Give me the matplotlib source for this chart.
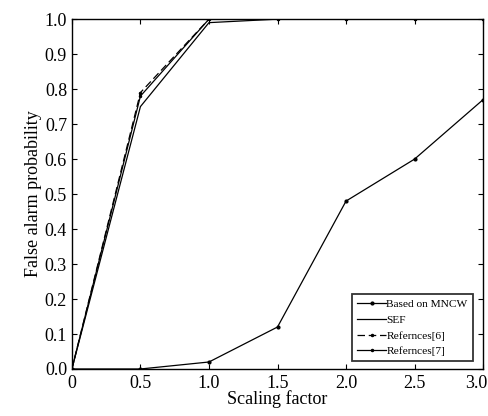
import matplotlib
matplotlib.use("Agg")
import matplotlib.pyplot as plt
import matplotlib.transforms as mtransforms

plt.rcParams['font.family'] = ['Liberation Serif', 'DejaVu Serif']

x = [0, 0.5, 1.0, 1.5, 2.0, 2.5, 3.0]
mncw = [0.0, 0.0, 0.02, 0.12, 0.48, 0.60, 0.77]
sef = [0.0, 0.75, 0.99, 1.0, 1.0, 1.0, 1.0]
ref6 = [0.0, 0.79, 1.0, 1.0, 1.0, 1.0, 1.0]
ref7 = [0.0, 0.78, 1.0, 1.0, 1.0, 1.0, 1.0]

xticks = [0, 0.5, 1.0, 1.5, 2.0, 2.5, 3.0]
xticklabels = ['0', '0.5', '1.0', '1.5', '2.0', '2.5', '3.0']
yticks = [0.0, 0.1, 0.2, 0.3, 0.4, 0.5, 0.6, 0.7, 0.8, 0.9, 1.0]

fig = plt.figure(figsize=(4.89, 4.16), dpi=100)
ax = fig.add_axes([0.147, 0.113, 0.841, 0.841])

ax.plot(x, mncw, color='black', lw=0.9, marker='o', ms=2, label='Based on MNCW')
ax.plot(x, sef, color='black', lw=0.9, label='SEF')
ax.plot(x, ref6, color='black', lw=0.9, ls=(0, (6, 3)), marker='o', ms=1.5, label='Refernces[6]')
ax.plot(x, ref7, color='black', lw=0.9, marker='o', ms=1.5, label='Refernces[7]')

ax.set_xlim(0, 3.0)
ax.set_ylim(0, 1.0)
ax.set_xticks(xticks)
ax.set_xticklabels(xticklabels)
ax.set_yticks(yticks)
ax.set_yticklabels([f'{v:.1f}' for v in yticks])
ax.tick_params(direction='in', top=True, right=True, labelsize=13, length=3.5, width=0.8)
ax.tick_params(axis='x', pad=4)
for s in ax.spines.values():
    s.set_linewidth(1.0)
ax.set_xlabel('Scaling factor', fontsize=13, labelpad=-1)
ax.set_ylabel('False alarm probability', fontsize=13, labelpad=2)

# keep last x tick label inside the figure
last = ax.get_xticklabels()[-1]
last.set_transform(last.get_transform() + mtransforms.ScaledTranslation(-7/100, 0, fig.dpi_scale_trans))

leg = ax.legend(loc='lower right', bbox_to_anchor=(0.983, 0.012), fontsize=8.2,
                frameon=True, fancybox=False, edgecolor='black', handlelength=2.6,
                handletextpad=0.0, borderpad=0.45, labelspacing=0.5, borderaxespad=0.3)
leg.get_frame().set_linewidth(1.3)

fig.savefig('out.png', dpi=100)
